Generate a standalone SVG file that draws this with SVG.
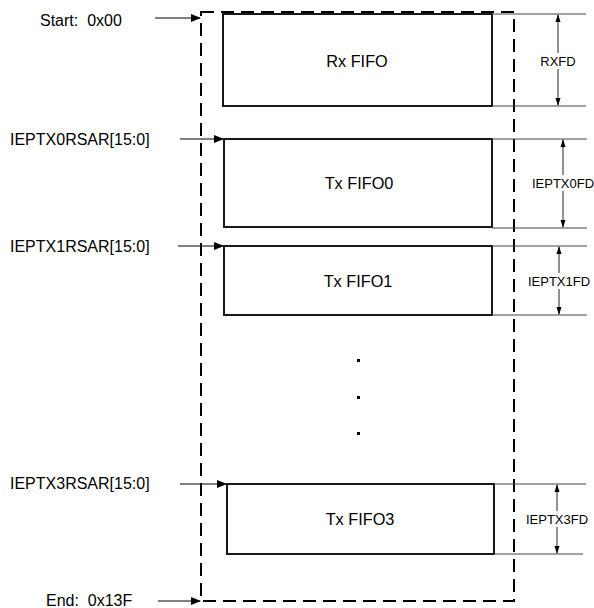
<svg xmlns="http://www.w3.org/2000/svg" width="594" height="608" viewBox="0 0 594 608">
<style>
  text { font-family: "Liberation Sans", Arial, sans-serif; fill: #000; }
  .lbl { font-size: 16px; white-space: pre; }
  .box { fill: #fff; stroke: #000; stroke-width: 1.8; }
  .boxt { font-size: 16.3px; text-anchor: middle; dominant-baseline: central; }
  .dimt { font-size: 13px; text-anchor: middle; dominant-baseline: central; }
  .ext { stroke: #444; stroke-width: 1; fill: none; }
  .dim { stroke: #222; stroke-width: 1; fill: none; marker-start: url(#dimA); marker-end: url(#dimA); }
  .ptr { stroke: #000; stroke-width: 1; fill: none; marker-end: url(#ptrA); }
  .frame { fill: none; stroke: #000; stroke-width: 2; stroke-dasharray: 13 7; }
</style>
<defs>
  <marker id="ptrA" markerWidth="10" markerHeight="8" refX="9" refY="4" orient="auto" markerUnits="userSpaceOnUse">
    <path d="M0,0 L10,4 L0,8 Z" fill="#000"/>
  </marker>
  <marker id="dimA" markerWidth="8" markerHeight="6" refX="7" refY="3" orient="auto-start-reverse" markerUnits="userSpaceOnUse">
    <path d="M0,0.5 L8,3 L0,5.5 Z" fill="#000"/>
  </marker>
</defs>

<g id="memory-frame">
  <rect class="frame" x="201" y="12" width="313" height="589"/>
</g>

<g id="rx-fifo">
  <rect class="box" x="223" y="14" width="269" height="92"/>
  <text class="boxt" x="357" y="61">Rx FIFO</text>
</g>
<g id="tx-fifo0">
  <rect class="box" x="224" y="139" width="268" height="88"/>
  <text class="boxt" x="359" y="183">Tx FIFO0</text>
</g>
<g id="tx-fifo1">
  <rect class="box" x="224" y="246" width="268" height="69"/>
  <text class="boxt" x="358" y="281">Tx FIFO1</text>
</g>
<g id="ellipsis">
  <rect x="357" y="359" width="3" height="3" fill="#000"/>
  <rect x="357" y="396" width="3" height="3" fill="#000"/>
  <rect x="357" y="432" width="3" height="3" fill="#000"/>
</g>
<g id="tx-fifo3">
  <rect class="box" x="227" y="484" width="267" height="70"/>
  <text class="boxt" x="360" y="519">Tx FIFO3</text>
</g>

<g id="labels">
  <text class="lbl" x="40" y="26" xml:space="preserve">Start:  0x00</text>
  <text class="lbl" x="10" y="145">IEPTX0RSAR[15:0]</text>
  <text class="lbl" x="10" y="252">IEPTX1RSAR[15:0]</text>
  <text class="lbl" x="10" y="489">IEPTX3RSAR[15:0]</text>
  <text class="lbl" x="46" y="606" xml:space="preserve">End:  0x13F</text>
</g>

<g id="connectors">
  <line class="ptr" x1="155" y1="18" x2="200" y2="18"/>
  <line class="ptr" x1="180" y1="139" x2="223" y2="139"/>
  <line class="ptr" x1="178" y1="246" x2="223" y2="246"/>
  <line class="ptr" x1="180" y1="484" x2="226" y2="484"/>
  <line class="ptr" x1="158" y1="601" x2="200" y2="601"/>

  <line class="ext" x1="492" y1="14" x2="586" y2="14"/>
  <line class="ext" x1="492" y1="106" x2="586" y2="106"/>
  <line class="ext" x1="492" y1="139" x2="587" y2="139"/>
  <line class="ext" x1="492" y1="228" x2="587" y2="228"/>
  <line class="ext" x1="492" y1="246" x2="587" y2="246"/>
  <line class="ext" x1="492" y1="315" x2="587" y2="315"/>
  <line class="ext" x1="494" y1="484" x2="586" y2="484"/>
  <line class="ext" x1="494" y1="554" x2="583" y2="554"/>

  <line class="dim" x1="558" y1="15" x2="558" y2="105"/>
  <line class="dim" x1="563" y1="140" x2="563" y2="227"/>
  <line class="dim" x1="559" y1="247" x2="559" y2="314"/>
  <line class="dim" x1="557" y1="485" x2="557" y2="553"/>
</g>

<g id="dim-labels">
  <rect x="539" y="53" width="39" height="16" fill="#fff"/>
  <text class="dimt" x="558" y="61">RXFD</text>
  <rect x="531" y="175" width="63" height="16" fill="#fff"/>
  <text class="dimt" x="563" y="183">IEPTX0FD</text>
  <rect x="527" y="273" width="63" height="16" fill="#fff"/>
  <text class="dimt" x="559" y="281">IEPTX1FD</text>
  <rect x="526" y="511" width="63" height="16" fill="#fff"/>
  <text class="dimt" x="557" y="519">IEPTX3FD</text>
</g>
</svg>
